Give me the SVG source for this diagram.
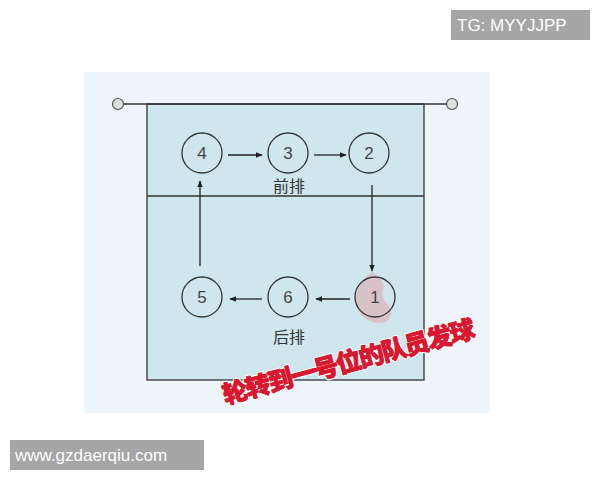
<svg xmlns="http://www.w3.org/2000/svg" width="600" height="480" viewBox="0 0 600 480">
<style>
.pos{fill:none;stroke:#333;stroke-width:1.3}
.num{font-family:"Liberation Sans",Arial,sans-serif;font-size:17px;fill:#444;text-anchor:middle}
.lbl{font-family:"Noto Sans CJK SC",sans-serif;font-size:16px;fill:#333;text-anchor:middle}
.conn{stroke:#222;stroke-width:1.3;fill:none;marker-end:url(#ah)}
.wm{font-family:"Liberation Sans",Arial,sans-serif;font-size:17px;fill:#fff}
</style>
<defs>
<marker id="ah" viewBox="0 0 10 10" refX="9" refY="5" markerWidth="7" markerHeight="7" orient="auto" markerUnits="userSpaceOnUse"><path d="M0,1 L10,5 L0,9 z" fill="#222"/></marker>
</defs>
<rect width="600" height="480" fill="#fff"/>
<rect x="84" y="72" width="406" height="341" fill="#eef5fb"/>
<rect x="147" y="104" width="277" height="276" fill="#cfe6ee" stroke="#333" stroke-width="1.3"/>
<line x1="147" y1="196" x2="424" y2="196" stroke="#333" stroke-width="1.3"/>
<g id="net">
<line x1="124" y1="104" x2="446" y2="104" stroke="#333" stroke-width="1.3"/>
<circle cx="118" cy="104" r="5.5" fill="#dde2dd" stroke="#555" stroke-width="1.2"/>
<circle cx="452" cy="104" r="5.5" fill="#dde2dd" stroke="#555" stroke-width="1.2"/>
</g>
<g id="connectors">
<line class="conn" x1="228" y1="155" x2="262" y2="155"/>
<line class="conn" x1="314" y1="155" x2="346" y2="155"/>
<line class="conn" x1="372" y1="185" x2="372" y2="271"/>
<line class="conn" x1="350" y1="299" x2="316" y2="299"/>
<line class="conn" x1="262" y1="299" x2="230" y2="299"/>
<line class="conn" x1="200" y1="266" x2="200" y2="181"/>
</g>
<g id="n4"><circle class="pos" cx="202" cy="153" r="20"/><text class="num" x="202" y="159">4</text></g>
<g id="n3"><circle class="pos" cx="288" cy="153" r="20"/><text class="num" x="288" y="159">3</text></g>
<g id="n2"><circle class="pos" cx="369" cy="153" r="20"/><text class="num" x="369" y="159">2</text></g>
<g id="n5"><circle class="pos" cx="202" cy="297" r="20"/><text class="num" x="202" y="303">5</text></g>
<g id="n6"><circle class="pos" cx="288" cy="297" r="20"/><text class="num" x="288" y="303">6</text></g>
<g id="n1">
<path d="M372,272 C360,280 352,295 358,310 C364,322 382,328 390,318 C396,305 378,300 383,290 C386,282 378,276 372,272 z" fill="#e8898f" opacity="0.4"/>
<circle class="pos" cx="375" cy="297" r="20"/><text class="num" x="375" y="303">1</text>
</g>
<text class="lbl" x="289" y="192">前排</text>
<text class="lbl" x="289" y="343">后排</text>
<text x="348" y="371" transform="rotate(-15 348 362)" font-family="Noto Sans CJK SC,sans-serif" font-weight="900" font-size="25" fill="#d81830" stroke="#fff" stroke-width="3" stroke-linejoin="round" paint-order="stroke" text-anchor="middle" letter-spacing="-1.5">轮转到一号位的队员发球</text>
<text x="348" y="371" transform="rotate(-15 348 362)" font-family="Noto Sans CJK SC,sans-serif" font-weight="900" font-size="25" fill="#d81830" stroke="#d81830" stroke-width="0.8" text-anchor="middle" letter-spacing="-1.5">轮转到一号位的队员发球</text>
<rect x="451" y="10" width="139" height="30" fill="#a6a6a6"/>
<text class="wm" x="457" y="31">TG: MYYJJPP</text>
<rect x="10" y="440" width="194" height="30" fill="#a6a6a6"/>
<text class="wm" x="15" y="461">www.gzdaerqiu.com</text>
</svg>
